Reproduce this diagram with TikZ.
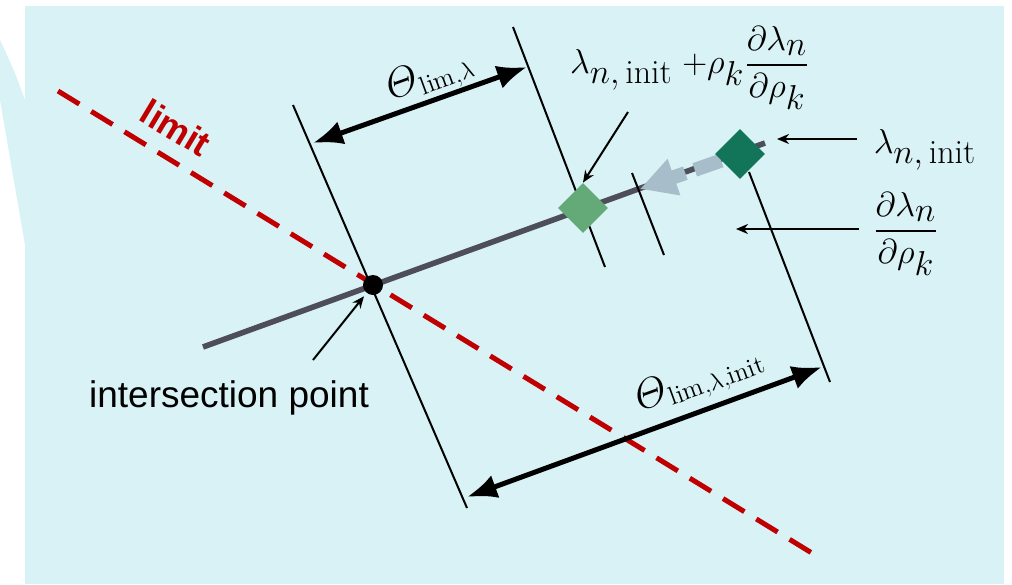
\documentclass[tikz,border=0pt]{standalone}
\usepackage{fontspec}
\setsansfont{Liberation Sans}
\usepackage{amsmath}
\usetikzlibrary{arrows.meta,shapes.geometric}
\definecolor{panelcyan}{RGB}{217,242,245}
\definecolor{limitred}{RGB}{192,0,0}
\definecolor{pathgray}{RGB}{78,78,90}
\definecolor{initgreen}{RGB}{18,117,90}
\definecolor{stepgreen}{RGB}{100,169,120}
\definecolor{gradblue}{RGB}{167,189,201}
\newcommand{\bigTheta}{\text{\fontsize{22}{24}\selectfont$\varTheta$}}
\tikzset{
  mathlabel/.style={font=\fontsize{17}{20}\selectfont, inner sep=0pt},
  anglelabel/.style={font=\fontsize{18.5}{21}\selectfont, inner sep=0pt, rotate=20},
  boundline/.style={line width=1pt},
  pointerarrow/.style={-{Stealth[length=6pt,width=5pt]}, line width=1pt},
  dimarrow/.style={{Latex[length=15pt,width=12pt]}-{Latex[length=15pt,width=12pt]}, line width=2.5pt},
  markerbox/.style={diamond, minimum width=25pt, minimum height=25pt, inner sep=0pt, aspect=1}
}

\begin{document}
\begin{tikzpicture}[x=0.5pt, y=-0.5pt]
  \useasboundingbox (0,0) rectangle (1012,584);
  % panel and its pointer
  \fill[panelcyan] (25,6) rectangle (1004,584);
  \fill[panelcyan] (25,100) .. controls (14,70) .. (0,40) -- (0,100) -- (25,245) -- cycle;

  % end points
  \coordinate (pathstart) at (203,347);
  \coordinate (pathend) at (765,143);
  \coordinate (limstart) at (58,91);
  \coordinate (limend) at (820,558);
  \coordinate (bound1a) at (293,105);
  \coordinate (bound1b) at (467,508);
  \coordinate (bound2a) at (513,27);
  \coordinate (bound2b) at (605,267);
  \coordinate (bound3a) at (632,173);
  \coordinate (bound3b) at (664,255);
  \coordinate (bound4a) at (749,172);
  \coordinate (bound4b) at (830,382);

  % search path and limit
  \draw[pathgray, line width=2.8pt] (pathstart) -- (pathend);
  \draw[limitred, line width=2.5pt, dash pattern=on 12.5pt off 7pt] (limstart) -- (limend);
  \node[font=\sffamily\bfseries\fontsize{18}{20}\selectfont, text=limitred, rotate=-31] (limlabel) at (176,128) {limit};

  % boundaries
  \draw[boundline] (bound1a) -- (bound1b);
  \draw[boundline] (bound2a) -- (bound2b);
  \draw[boundline] (bound3a) -- (bound3b);
  \draw[boundline] (bound4a) -- (bound4b);

  % markers
  \node[circle, fill=black, minimum size=10pt, inner sep=0pt] (xpoint) at (373,285) {};
  \node[markerbox, fill=stepgreen] (stepmark) at (583,208) {};
  \node[markerbox] (initmark) at (740,154) {};
  \coordinate (gradtip) at (640,189);
  \draw[gradblue, line width=7pt, dash pattern=on 14pt off 5pt on 40pt,
    -{Triangle[length=18pt,width=18pt]}] (initmark) -- (gradtip);
  \node[markerbox, fill=initgreen] at (initmark) {};

  % distances
  \coordinate (lim1) at (313,143);
  \coordinate (lim2) at (527,67);
  \coordinate (init1) at (467,497);
  \coordinate (init2) at (822,367);
  \draw[dimarrow] (lim1) -- (lim2);
  \draw[dimarrow] (init1) -- (init2);
  \node[anglelabel] (thetalim) at (430,77) {$\bigTheta_{\mathrm{lim},\lambda}$};
  \node[anglelabel] (thetainit) at (700,380) {$\bigTheta_{\mathrm{lim},\lambda,\mathrm{init}}$};

  % labels
  \node[mathlabel] (steplabel) at (690,68)
    {$\lambda_{\textstyle n,\mathrm{init}}\;{+}\rho_{\textstyle k}\dfrac{\partial\lambda_{\textstyle n}}{\partial\rho_{\textstyle k}}$};
  \node[mathlabel] (initlabel) at (925,150) {$\lambda_{\textstyle n,\mathrm{init}}$};
  \node[mathlabel, font=\fontsize{18}{21}\selectfont] (gradlabel) at (906,234) {$\dfrac{\partial\lambda_{\textstyle n}}{\partial\rho_{\textstyle k}}$};
  \node[font=\sffamily\fontsize{18.5}{22}\selectfont] (xlabel) at (229,398) {intersection point};

  % pointers
  \coordinate (stepptr) at (628,112);
  \coordinate (initptr) at (857,139);
  \coordinate (initdir) at (777,139);
  \coordinate (gradptr) at (859,229);
  \coordinate (graddir) at (736,229);
  \coordinate (xptr) at (313,360);
  \draw[pointerarrow] (stepptr) -- (stepmark.north);
  \draw[pointerarrow] (initptr) -- (initdir);
  \draw[pointerarrow] (gradptr) -- (graddir);
  \draw[pointerarrow, shorten >=2pt] (xptr) -- (xpoint);
\end{tikzpicture}
\end{document}
